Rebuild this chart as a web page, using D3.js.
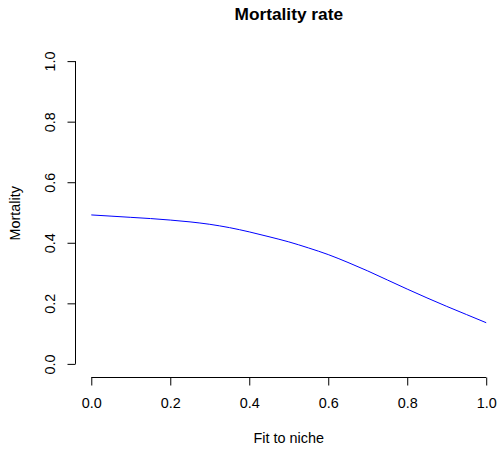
<!DOCTYPE html>
<html>
<head>
<meta charset="utf-8">
<script src="https://cdn.jsdelivr.net/npm/d3@7"></script>
<style>
  html, body { margin: 0; padding: 0; background: #fff; }
  svg { display: block; font-family: "Liberation Sans", Arial, sans-serif; }
</style>
</head>
<body>
<svg id="chart" width="497" height="450"></svg>
<script>
// Data
const fitToNiche = [0, 0.05, 0.1, 0.15, 0.2, 0.25, 0.3, 0.35, 0.4, 0.45, 0.5,
                    0.55, 0.6, 0.65, 0.7, 0.75, 0.8, 0.85, 0.9, 0.95, 1.0];
const mortality  = [0.492, 0.488, 0.484, 0.480, 0.475, 0.469, 0.461, 0.450, 0.436, 0.420, 0.403,
                    0.383, 0.361, 0.335, 0.307, 0.277, 0.247, 0.218, 0.190, 0.163, 0.136];
const xTicks = [0, 0.2, 0.4, 0.6, 0.8, 1.0];
const yTicks = [0, 0.2, 0.4, 0.6, 0.8, 1.0];
const titleText = "Mortality rate";
const xLabel = "Fit to niche";
const yLabel = "Mortality";

const svg = d3.select("#chart");
const plot = { left: 75.5, right: 502, top: 49, bottom: 377.5 };

const x = d3.scaleLinear().domain([-0.04, 1.04]).range([plot.left, plot.right]);
const y = d3.scaleLinear().domain([-0.04, 1.04]).range([plot.bottom - 1.5, plot.top]);
const fmt = d3.format(".1f");

// X axis
const gx = svg.append("g").attr("transform", `translate(0,${plot.bottom})`)
  .call(d3.axisBottom(x).tickValues(xTicks).tickSize(8).tickSizeOuter(0).tickFormat(fmt));
gx.select(".domain").remove();
gx.append("line").attr("x1", x(xTicks[0])).attr("x2", x(xTicks[xTicks.length - 1]))
  .attr("y1", 0).attr("y2", 0).attr("stroke", "#000");
gx.selectAll(".tick line").attr("stroke", "#000");
gx.selectAll(".tick text").attr("y", 30.5).attr("dy", null)
  .attr("font-size", "14.4px").attr("fill", "#000")
  .attr("font-family", '"Liberation Sans", Arial, sans-serif');

// Y axis
const gy = svg.append("g").attr("transform", `translate(${plot.left},0)`)
  .call(d3.axisLeft(y).tickValues(yTicks).tickSize(8).tickSizeOuter(0).tickFormat(fmt));
gy.select(".domain").remove();
gy.append("line").attr("y1", y(yTicks[0])).attr("y2", y(yTicks[yTicks.length - 1]))
  .attr("x1", 0).attr("x2", 0).attr("stroke", "#000");
gy.selectAll(".tick line").attr("stroke", "#000");
gy.selectAll(".tick text")
  .attr("x", null).attr("dy", null)
  .attr("transform", "translate(-20.5,0) rotate(-90)")
  .attr("text-anchor", "middle")
  .attr("font-size", "14.4px").attr("fill", "#000")
  .attr("font-family", '"Liberation Sans", Arial, sans-serif');

// Curve
const pts = fitToNiche.map((v, i) => [v, mortality[i]]);
svg.append("path")
  .datum(pts)
  .attr("fill", "none")
  .attr("stroke", "#0000ff")
  .attr("stroke-width", 1)
  .attr("d", d3.line().x(d => x(d[0])).y(d => y(d[1])).curve(d3.curveMonotoneX));

// Title
svg.append("text")
  .attr("x", (plot.left + plot.right) / 2).attr("y", 20)
  .attr("text-anchor", "middle")
  .attr("font-size", "17.3px").attr("font-weight", "bold").attr("fill", "#000")
  .text(titleText);

// Axis labels
svg.append("text")
  .attr("x", (plot.left + plot.right) / 2).attr("y", 443)
  .attr("text-anchor", "middle")
  .attr("font-size", "14.4px").attr("fill", "#000")
  .text(xLabel);

svg.append("text")
  .attr("transform", `translate(20,${(plot.top + plot.bottom) / 2}) rotate(-90)`)
  .attr("text-anchor", "middle")
  .attr("font-size", "14.4px").attr("fill", "#000")
  .text(yLabel);
</script>
</body>
</html>
